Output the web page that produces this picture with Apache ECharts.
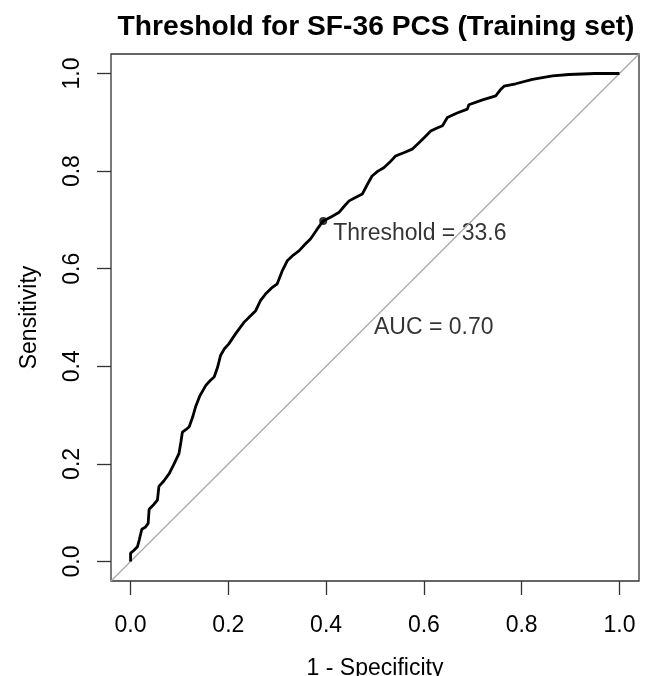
<!DOCTYPE html>
<html>
<head>
<meta charset="utf-8">
<script src="https://cdn.jsdelivr.net/npm/echarts@6/dist/echarts.min.js"></script>
<style>
html, body { margin: 0; padding: 0; background: #fff; }
#chart { width: 645px; height: 676px; }
</style>
</head>
<body>
<div id="chart"></div>
<script>
// ROC curve
var fpr = [0, 0, 0.006, 0.014, 0.018, 0.023, 0.030, 0.036, 0.038, 0.046,
    0.055, 0.058, 0.068, 0.079, 0.088, 0.099, 0.103, 0.106, 0.113, 0.120,
    0.127, 0.133, 0.142, 0.154, 0.163, 0.171, 0.178, 0.184, 0.192, 0.201,
    0.215, 0.232, 0.244, 0.256, 0.266, 0.276, 0.288, 0.300, 0.310, 0.321,
    0.333, 0.345, 0.357, 0.368, 0.381, 0.394, 0.410, 0.426, 0.437, 0.447,
    0.460, 0.474, 0.484, 0.494, 0.506, 0.518, 0.530, 0.542, 0.560, 0.576,
    0.590, 0.602, 0.614, 0.626, 0.638, 0.648, 0.668, 0.689, 0.692, 0.720,
    0.747, 0.756, 0.764, 0.788, 0.822, 0.863, 0.897, 0.95, 1.0];
var tpr = [0, 0.017, 0.022, 0.030, 0.045, 0.066, 0.070, 0.078, 0.107, 0.115,
    0.126, 0.154, 0.165, 0.180, 0.198, 0.221, 0.245, 0.265, 0.270, 0.276,
    0.296, 0.317, 0.340, 0.361, 0.371, 0.378, 0.398, 0.422, 0.436, 0.446,
    0.467, 0.490, 0.502, 0.514, 0.535, 0.548, 0.560, 0.569, 0.595, 0.617,
    0.628, 0.637, 0.650, 0.661, 0.680, 0.698, 0.706, 0.715, 0.728, 0.739,
    0.746, 0.753, 0.772, 0.790, 0.800, 0.807, 0.818, 0.831, 0.838, 0.845,
    0.858, 0.870, 0.882, 0.888, 0.893, 0.910, 0.919, 0.927, 0.936, 0.946,
    0.954, 0.966, 0.974, 0.979, 0.988, 0.995, 0.998, 1.0, 1.0];
var threshold = [0.394, 0.698];
var thresholdText = 'Threshold = 33.6';
var aucPos = [0.5, 0.5];
var aucText = 'AUC = 0.70';
var tickValues = [0, 0.2, 0.4, 0.6, 0.8, 1.0];

var font = 'Liberation Sans';
var rocData = [];
for (var i = 0; i < fpr.length; i++) {
    rocData.push([fpr[i], tpr[i]]);
}

var myChart = echarts.init(document.getElementById('chart'), null, {renderer: 'canvas'});
var option = {
    backgroundColor: '#fff',
    animation: false,
    title: {
        text: 'Threshold for SF-36 PCS (Training set)',
        left: 371,
        top: 8,
        textAlign: 'center',
        textStyle: { fontFamily: font, fontSize: 28.2, fontWeight: 'bold', color: '#000' }
    },
    grid: {
        left: 111, right: 6, top: 54, bottom: 95,
        containLabel: false, outerBoundsMode: 'none',
        show: true, borderColor: '#333', borderWidth: 1.3
    },
    xAxis: {
        type: 'value', min: -0.04, max: 1.04,
        name: '1 - Specificity', nameLocation: 'middle', nameGap: 76,
        nameTextStyle: { fontFamily: font, fontSize: 23, color: '#000' },
        axisLine: { show: false, onZero: false },
        splitLine: { show: false },
        axisTick: { show: true, inside: false, length: 14, customValues: tickValues, lineStyle: { color: '#333', width: 1.3 } },
        axisLabel: {
            customValues: tickValues, margin: 33,
            fontFamily: font, fontSize: 23, color: '#000',
            formatter: function (v) { return v.toFixed(1); }
        }
    },
    yAxis: {
        type: 'value', min: -0.04, max: 1.04,
        name: 'Sensitivity', nameLocation: 'middle', nameGap: 70,
        nameTextStyle: { fontFamily: font, fontSize: 23, color: '#000' },
        axisLine: { show: false, onZero: false },
        splitLine: { show: false },
        axisTick: { show: true, inside: false, length: 14, customValues: tickValues, lineStyle: { color: '#333', width: 1.3 } },
        axisLabel: {
            customValues: tickValues, margin: 27, rotate: 90,
            fontFamily: font, fontSize: 23, color: '#000',
            formatter: function (v) { return v.toFixed(1); }
        }
    },
    series: [
        {
            // chance line, corner to corner
            name: 'diag',
            type: 'line',
            data: [[-0.04, -0.04], [1.04, 1.04]],
            symbol: 'none',
            lineStyle: { color: '#aaa', width: 1.3 },
            silent: true
        },
        {
            name: 'ROC',
            type: 'line',
            data: rocData,
            symbol: 'none',
            lineStyle: { color: '#000', width: 2.8 },
            silent: true
        },
        {
            name: 'threshold',
            type: 'scatter',
            data: [threshold],
            symbolSize: 8,
            itemStyle: { color: '#000' },
            label: {
                show: true, position: 'right', distance: 6, offset: [0, 13],
                formatter: thresholdText,
                fontFamily: font, fontSize: 23, color: '#000'
            }
        },
        {
            name: 'auc',
            type: 'scatter',
            data: [aucPos],
            symbolSize: 0,
            label: {
                show: true, position: 'right', distance: 0, offset: [-1, 10],
                formatter: aucText,
                fontFamily: font, fontSize: 23, color: '#000'
            }
        }
    ]
};
myChart.setOption(option);
</script>
</body>
</html>
